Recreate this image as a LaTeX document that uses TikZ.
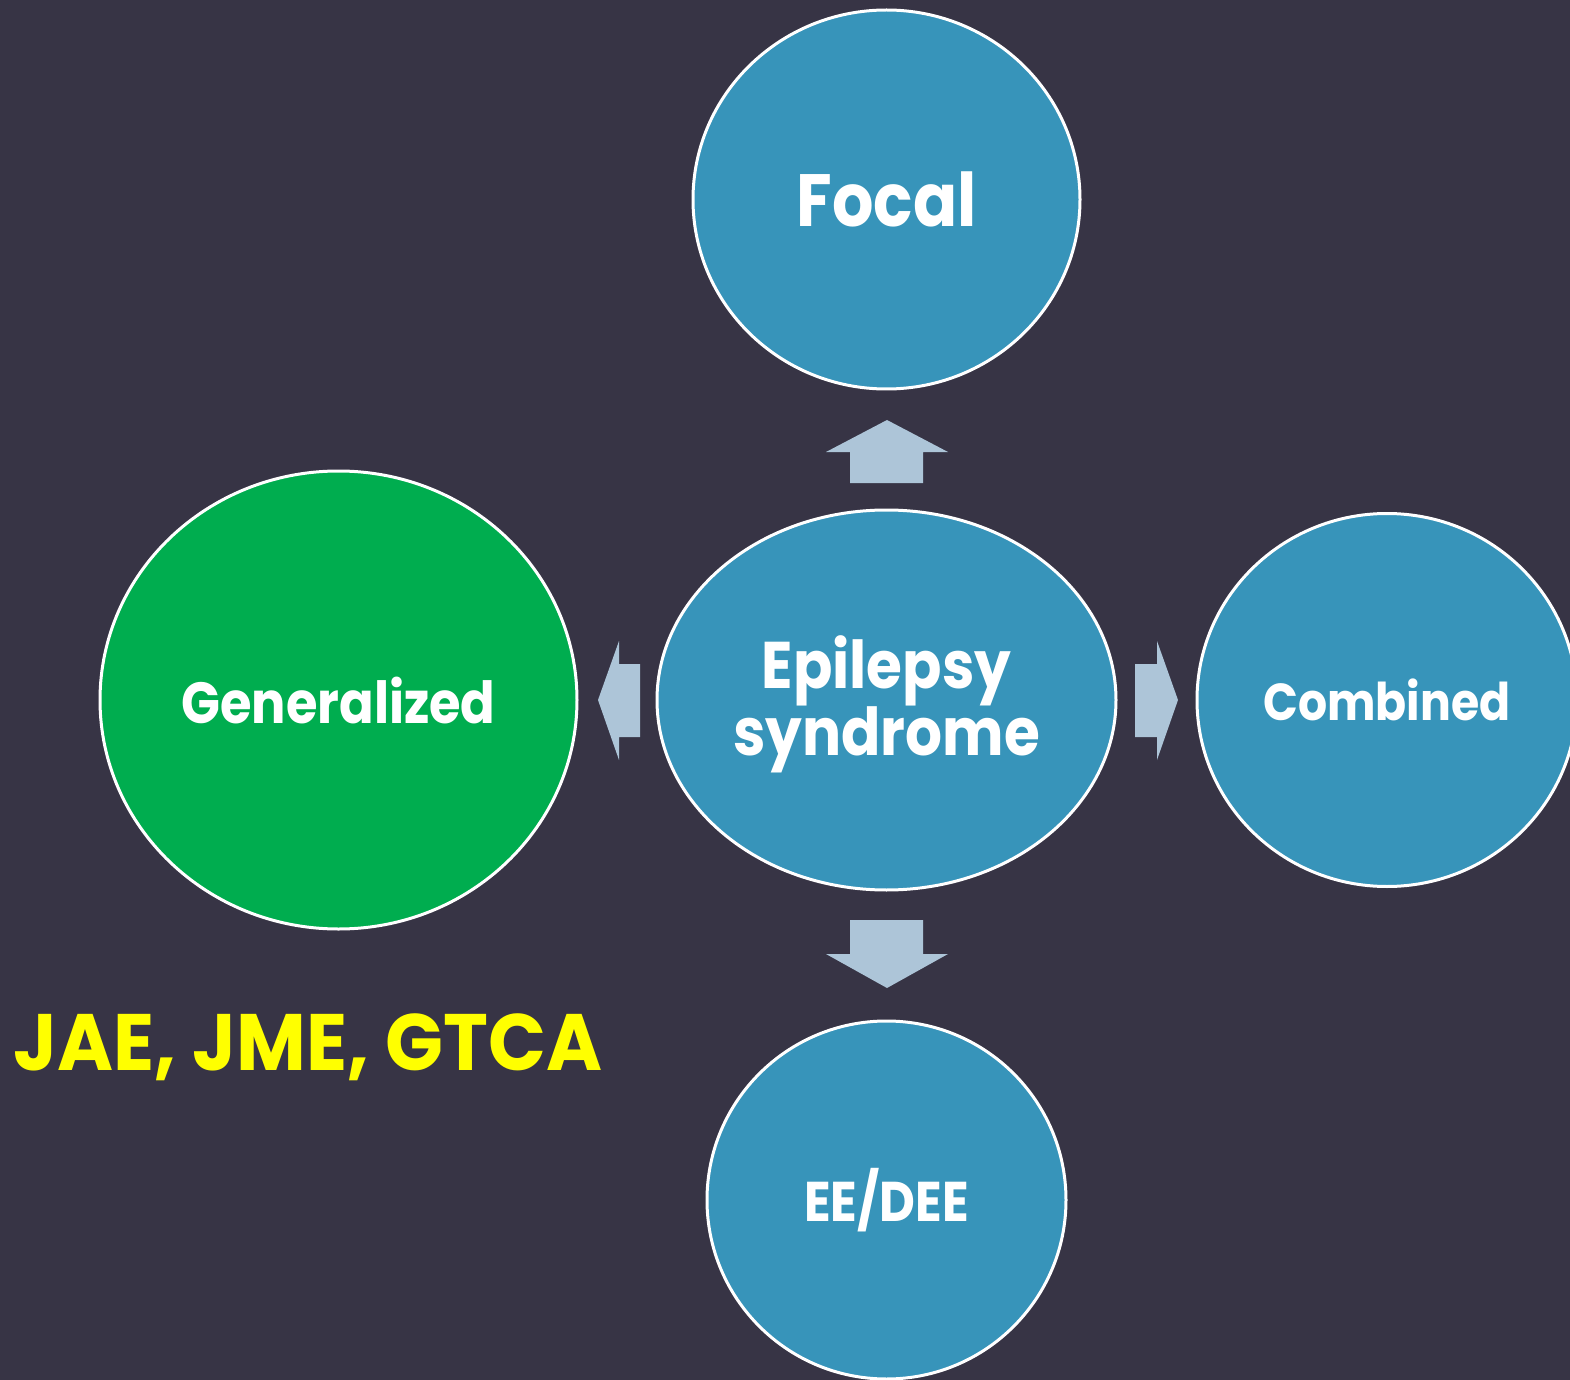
\documentclass[tikz,border=0pt]{standalone}
\usepackage{fontspec}
\setmainfont{Poppins}[FakeStretch=0.88]
\newfontfamily\notefont{Poppins}[FakeStretch=0.95]
\usetikzlibrary{shapes.geometric}
\definecolor{bg}{HTML}{373445}
\definecolor{bubblefill}{HTML}{3794BA}
\definecolor{greenfill}{HTML}{00AD4F}
\definecolor{arrowfill}{HTML}{ADC5D8}
\definecolor{noteyellow}{HTML}{FFFF00}
\begin{document}
\begin{tikzpicture}[x=0.5pt,y=-0.5pt,
  bubble/.style={ellipse, draw=white, line width=1.5pt, fill=bubblefill,
    inner sep=0pt},
  caption/.style={text=white, inner sep=0pt, align=center},
  blockarrow/.style={fill=arrowfill}]
% canvas
\fill[bg] (0,0) rectangle (1570,1380);
\useasboundingbox (0,0) rectangle (1570,1380);
\clip (0,0) rectangle (1570,1380);

% bubbles
\node[bubble, minimum width=193.5pt, minimum height=189.5pt] (focal) at (886.5,199.5) {};
\node[bubble, minimum width=229.5pt, minimum height=190pt] (center) at (886.5,700) {};
\node[bubble, fill=greenfill, minimum width=238.5pt, minimum height=229pt] (gen) at (338.5,700) {};
\node[bubble, minimum width=190pt, minimum height=186.5pt] (comb) at (1387,700) {};
\node[bubble, minimum width=179.5pt, minimum height=179pt] (ee) at (886.5,1200) {};

% bubble captions
\node[caption, font=\bfseries\fontsize{37}{40}\selectfont] (focaltext) at (focal) {Focal};
\node[caption, font=\bfseries\fontsize{33}{33.5}\selectfont] (centertext)
  at ([yshift=-2pt]center.center) {Epilepsy\\syndrome};
\node[caption, font=\bfseries\fontsize{29}{32}\selectfont] (gentext) at (gen) {Generalized};
\node[caption, font=\bfseries\fontsize{26}{30}\selectfont] (combtext) at (comb) {Combined};
\node[caption, font=\bfseries\fontsize{28}{30}\selectfont] (eetext) at (ee) {EE/DEE};

% block arrows from the centre
\fill[blockarrow] (850,483) -- (850,452) -- (826,452) -- (887,420) -- (948,452)
  -- (923,452) -- (923,483) -- cycle;
\fill[blockarrow] (850,920) -- (923,920) -- (923,954) -- (948,954) -- (887,988)
  -- (826,954) -- (850,954) -- cycle;
\fill[blockarrow] (640,664) -- (619,664) -- (619,641) -- (598,700) -- (619,760)
  -- (619,737) -- (640,737) -- cycle;
\fill[blockarrow] (1135,664) -- (1157,664) -- (1157,641) -- (1178,700) -- (1157,760)
  -- (1157,737) -- (1135,737) -- cycle;

% note
\node[text=noteyellow, font=\notefont\bfseries\fontsize{40}{44}\selectfont, inner sep=0pt]
  (note) at (308,1047) {JAE, JME, GTCA};
\end{tikzpicture}
\end{document}
